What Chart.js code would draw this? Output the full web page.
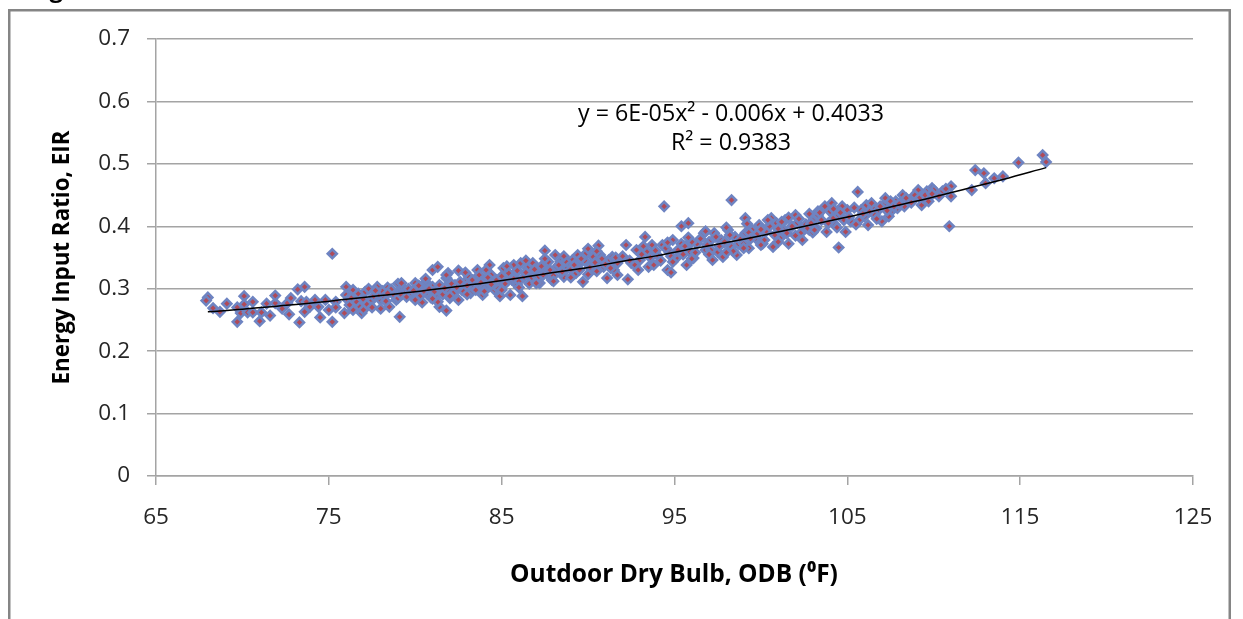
<!DOCTYPE html>
<html><head><meta charset="utf-8">
<script src="https://cdn.jsdelivr.net/npm/chart.js@4.4.1/dist/chart.umd.min.js"></script>
<style>
html,body{margin:0;padding:0;background:#fff;overflow:hidden}
canvas{display:block}
</style></head><body>
<canvas id="c" width="1243" height="619"></canvas>
<script>
// ---- data ----
const xTicks = [65, 75, 85, 95, 105, 115, 125];
const yTicks = [0, 0.1, 0.2, 0.3, 0.4, 0.5, 0.6, 0.7];

// cool range, 68-79 F
const odbCool = [68.0,67.9,68.3,68.7,69.1,69.7,69.7,70.1,69.9,70.1,
  70.3,70.6,70.6,71.0,71.1,71.4,71.6,71.9,71.9,72.3,
  72.7,72.6,72.8,73.2,73.6,73.3,73.4,73.6,73.7,73.9,
  74.2,74.5,74.4,74.8,75.0,75.2,75.2,75.4,75.4,75.9,
  76.0,76.0,76.1,76.4,76.4,76.6,76.8,76.9,77.1,77.3,
  77.4,77.6,77.8,78.0,78.2,78.4,78.5,78.7,79.0,79.1,
  79.2,78.9,76.3,76.7,77.0,77.2,77.5,77.9,78.1,78.3,
  78.6,78.8,79.3,79.4,77.7,78.4,79.0,76.2,77.0,78.0];
const eirCool = [.286,.281,.269,.263,.276,.247,.270,.288,.261,.275,
  .262,.279,.262,.248,.262,.276,.257,.277,.289,.268,
  .259,.277,.285,.299,.303,.246,.280,.263,.279,.271,
  .282,.254,.271,.282,.266,.247,.356,.279,.270,.261,
  .303,.290,.282,.298,.266,.279,.271,.261,.295,.300,
  .279,.288,.303,.282,.287,.302,.271,.293,.308,.255,
  .298,.282,.285,.292,.283,.275,.270,.291,.296,.280,
  .299,.289,.301,.294,.297,.293,.285,.274,.266,.268];

// mild range, 79-92 F
const odbMild = [79.2,79.2,79.5,79.8,80.0,80.1,80.4,80.4,80.6,80.7,
  81.0,81.0,81.3,81.2,81.4,81.3,81.5,81.8,81.8,81.9,
  81.9,82.0,82.3,82.5,82.5,82.7,82.9,83.1,83.2,83.4,
  83.5,83.6,83.7,83.8,83.9,84.1,84.3,84.4,84.6,84.9,
  84.9,85.1,85.3,85.5,85.6,85.7,85.8,85.9,86.1,86.2,
  86.3,86.5,86.7,86.8,87.0,87.2,87.5,87.6,87.7,87.9,
  88.1,88.2,88.4,88.6,88.8,88.9,89.1,89.3,89.4,89.6,
  89.7,89.9,90.0,90.2,90.3,90.6,90.7,90.9,91.1,91.2,
  91.4,91.7,90.8,91.5,91.7,
  79.6,79.9,80.2,80.3,80.5,80.8,80.9,81.1,81.4,81.6,
  81.7,82.1,82.2,82.4,82.6,82.8,83.0,83.3,83.5,83.8,
  84.0,84.2,84.4,84.7,84.8,85.0,85.2,85.4,85.7,85.9,
  86.0,86.4,86.6,86.9,87.1,87.3,87.4,87.8,88.0,88.3,
  88.5,88.7,89.0,89.2,89.5,89.8,90.1,90.4,90.5,90.8,
  91.0,91.3,91.6,80.0,81.0,82.0,83.0,84.0,85.0,86.0,
  87.0,88.0,89.0,90.0,80.6,81.8,82.9,84.1,85.3,86.4,
  87.5,88.6,89.6,90.5];
const eirMild = [.309,.290,.287,.293,.309,.290,.278,.301,.311,.292,
  .303,.330,.335,.287,.271,.279,.303,.265,.317,.325,
  .298,.285,.306,.329,.282,.298,.311,.319,.293,.303,
  .311,.330,.322,.303,.290,.314,.338,.322,.298,.288,
  .311,.333,.322,.290,.314,.338,.325,.306,.341,.288,
  .319,.333,.317,.341,.325,.309,.361,.325,.343,.314,
  .354,.335,.343,.319,.333,.341,.346,.325,.354,.343,
  .311,.357,.364,.338,.351,.369,.354,.335,.317,.346,
  .351,.341,.346,.330,.322,
  .300,.297,.305,.289,.296,.300,.286,.295,.306,.291,
  .301,.308,.293,.302,.311,.296,.305,.314,.298,.310,
  .302,.318,.307,.314,.300,.320,.308,.325,.316,.329,
  .312,.326,.308,.331,.318,.336,.322,.330,.321,.338,
  .327,.344,.331,.338,.330,.345,.334,.342,.328,.348,
  .339,.333,.350,.282,.284,.288,.291,.296,.298,.302,
  .309,.312,.318,.323,.316,.322,.326,.330,.336,.345,
  .348,.352,.348,.360];

// warm range, 92-103 F
const odbWarm = [92.2,92.3,92.5,92.8,93.0,93.3,93.4,93.5,93.7,94.0,
  94.3,94.4,94.6,94.8,94.7,94.9,95.1,95.4,95.4,95.8,
  95.7,95.9,96.1,96.3,96.7,96.8,97.0,97.2,97.3,97.5,
  97.7,97.8,98.1,98.3,98.3,98.5,98.6,98.7,99.1,99.1,
  99.3,99.5,99.7,99.9,100.1,100.3,100.6,100.7,100.9,101.1,
  101.3,101.4,101.6,102.0,102.1,102.3,102.5,102.8,103.2,103.3,
  103.2,
  92.0,92.4,92.7,93.1,93.6,93.9,94.2,94.5,94.8,95.2,
  95.5,95.6,96.0,96.2,96.5,96.9,97.1,97.4,97.6,97.9,
  98.2,98.4,98.8,99.0,99.3,99.4,99.8,100.0,100.2,100.5,
  100.8,101.0,101.2,101.5,101.8,102.2,102.6,103.0,92.9,93.8,
  94.9,96.0,97.0,98.0,99.0,100.0,101.0,102.0,103.0,93.2,
  94.6,95.8,96.8,98.0,99.2,100.4,101.6,102.8];
const eirWarm = [.370,.315,.341,.362,.346,.383,.359,.335,.370,.354,
  .370,.432,.330,.326,.359,.378,.349,.400,.372,.405,
  .338,.359,.349,.372,.389,.362,.375,.346,.389,.359,
  .378,.351,.394,.442,.367,.383,.354,.372,.413,.389,
  .365,.394,.381,.402,.372,.392,.413,.367,.405,.381,
  .394,.410,.372,.418,.405,.389,.399,.394,.416,.424,
  .397,
  .352,.345,.338,.355,.350,.361,.345,.365,.352,.362,
  .355,.368,.375,.358,.380,.370,.362,.383,.368,.375,
  .386,.360,.379,.372,.390,.380,.388,.395,.378,.400,
  .386,.396,.407,.389,.400,.412,.403,.409,.330,.338,
  .343,.348,.355,.358,.365,.370,.375,.385,.390,.368,
  .374,.382,.392,.398,.404,.410,.414,.420];

// hot range, 102-117 F
const odbHot = [102.4,102.7,102.9,103.1,103.3,103.4,103.7,103.8,104.0,104.1,
  104.2,104.3,104.5,104.5,104.7,104.8,104.9,105.0,105.2,105.6,
  105.7,105.8,106.0,106.1,106.2,106.3,106.5,106.8,107.0,107.1,
  107.2,107.4,107.6,107.8,107.9,108.2,108.3,108.6,108.8,109.0,
  109.1,109.3,109.4,109.6,109.8,109.9,110.1,110.5,111.0,111.0,
  110.9,112.2,112.4,112.9,113.0,113.5,114.0,114.9,116.3,116.5,
  103.5,103.9,104.2,104.6,105.1,105.4,105.9,106.4,106.6,106.9,
  107.3,107.5,107.7,108.0,108.4,108.7,108.9,109.2,109.5,109.7,
  110.0,110.3,110.7,109.9,104.4,105.5,106.7];
const eirHot = [.378,.397,.405,.394,.418,.422,.432,.391,.424,.437,
  .413,.402,.366,.418,.432,.410,.391,.426,.408,.455,
  .410,.426,.416,.434,.402,.424,.432,.426,.408,.434,
  .445,.416,.426,.440,.429,.450,.432,.442,.443,.453,
  .458,.434,.445,.456,.448,.461,.453,.456,.464,.448,
  .400,.458,.490,.485,.469,.477,.480,.502,.514,.503,
  .410,.405,.428,.422,.415,.430,.420,.437,.418,.432,
  .425,.440,.432,.436,.445,.438,.450,.446,.450,.440,
  .458,.448,.460,.452,.398,.403,.412];

// polynomial trendline as drawn in the picture
const trendX = [68,70,72,74,76,78,80,82,84,86,88,90,92,94,96,98,100,102,104,106,108,110,112,114,116.5];
const trendY = [.263,.267,.272,.277,.283,.289,.295,.302,.309,.317,.326,.334,.344,.353,.364,.374,.385,.397,.409,.421,.434,.447,.461,.475,.494];

const eqLine1 = 'y = 6E-05x² - 0.006x + 0.4033';
const eqLine2 = 'R² = 0.9383';
const xTitle = 'Outdoor Dry Bulb, ODB (⁰F)';
const yTitle = 'Energy Input Ratio, EIR';

// ---- build ----
const odb = [].concat(odbCool, odbMild, odbWarm, odbHot);
const eir = [].concat(eirCool, eirMild, eirWarm, eirHot);
const points = odb.map((x, i) => ({x: x, y: eir[i]}));
const trend = trendX.map((x, i) => ({x: x, y: trendY[i]}));

const FAM = '"Open Sans", "DejaVu Sans", sans-serif';
const GRID = '#a4a4a4';

function fitFont(ctx, text, weight, target) {
  ctx.font = weight + ' 100px ' + FAM;
  const w = ctx.measureText(text).width;
  return 100 * target / w;
}

const deco = {
  id: 'deco',
  beforeDraw(ch) {
    const c = ch.ctx;
    c.save();
    c.fillStyle = '#fff';
    c.fillRect(0, 0, ch.width, ch.height);
    c.strokeStyle = '#858585';
    c.lineWidth = 2.5;
    c.strokeRect(9.25, 10.25, 1220.5, 720);
    c.fillStyle = '#000';
    c.font = 'bold 24px ' + FAM;
    c.textBaseline = 'alphabetic';
    c.textAlign = 'left';
    c.fillText('Figure', 29, -3);
    c.restore();
  },
  afterDraw(ch) {
    const c = ch.ctx;
    c.save();
    c.fillStyle = '#000';
    c.textBaseline = 'alphabetic';
    c.textAlign = 'center';
    // x title
    let s = fitFont(c, xTitle, 'bold', 328);
    c.font = 'bold ' + s + 'px ' + FAM;
    c.fillText(xTitle, 674, 582);
    // equation
    s = fitFont(c, eqLine1, 'normal', 306);
    c.font = 'normal ' + s + 'px ' + FAM;
    c.fillText(eqLine1, 731, 120.5);
    c.fillText(eqLine2, 731, 150);
    // y title
    c.translate(69, 257.5);
    c.rotate(-Math.PI / 2);
    s = fitFont(c, yTitle, 'bold', 254);
    c.font = 'bold ' + s + 'px ' + FAM;
    c.fillText(yTitle, 0, 0);
    c.restore();
  }
};

new Chart(document.getElementById('c'), {
  type: 'scatter',
  data: {
    datasets: [
      {
        data: points,
        pointStyle: 'rectRot',
        radius: 4.5,
        borderWidth: 2.6,
        borderColor: '#6e84c2',
        backgroundColor: '#b04a58',
        order: 1
      },
      {
        data: trend,
        showLine: true,
        borderColor: '#000',
        borderWidth: 1.5,
        pointRadius: 0,
        tension: 0.4,
        order: 0
      }
    ]
  },
  options: {
    responsive: false,
    animation: false,
    devicePixelRatio: 1,
    events: [],
    layout: {padding: {left: 0, top: 39, right: 50, bottom: 0}},
    plugins: {legend: {display: false}, tooltip: {enabled: false}},
    scales: {
      x: {
        type: 'linear', position: 'bottom', min: 65, max: 125,
        afterBuildTicks: s => { s.ticks = xTicks.map(v => ({value: v})); },
        afterFit: s => { s.height = 143; },
        ticks: {font: {family: FAM, size: 22.5}, color: '#262626', padding: 19,
                maxRotation: 0, autoSkip: false, callback: v => String(v)},
        grid: {drawOnChartArea: false, drawTicks: true, tickLength: 9, color: GRID, lineWidth: 1.5},
        border: {color: GRID, width: 1.5}
      },
      y: {
        type: 'linear', min: 0, max: 0.7,
        afterBuildTicks: s => { s.ticks = yTicks.map(v => ({value: v})); },
        afterFit: s => { s.width = 156; },
        ticks: {font: {family: FAM, size: 22.5}, color: '#262626', padding: 17,
                autoSkip: false, callback: v => String(v)},
        grid: {drawTicks: true, tickLength: 9, color: GRID, lineWidth: 1.5},
        border: {color: GRID, width: 1.5}
      }
    }
  },
  plugins: [deco]
});
</script>
</body></html>
